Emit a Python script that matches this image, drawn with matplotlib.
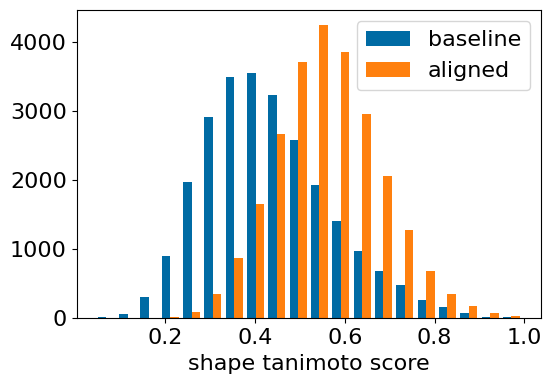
import numpy as np
import matplotlib
matplotlib.use("Agg")
import matplotlib.pyplot as plt

bin_edges = np.linspace(0.045, 0.995, 21)
baseline = [20, 62, 312, 900, 1968, 2921, 3499, 3557, 3239, 2589,
            1925, 1405, 972, 683, 481, 264, 163, 77, 20, 20]
aligned = [0, 0, 0, 20, 91, 350, 871, 1651, 2676, 3716,
           4250, 3860, 2964, 2069, 1275, 683, 350, 177, 77, 34]
labels = ["baseline", "aligned"]
colors = ["#006BA4", "#FF800E"]

centers = (bin_edges[:-1] + bin_edges[1:]) / 2

fig = plt.figure(figsize=(5.51, 3.89), dpi=100)
ax = fig.add_axes([0.139, 0.1817, 0.843, 0.7918])
ax.hist([centers, centers], bins=bin_edges, weights=[baseline, aligned],
        label=labels, color=colors)
ax.tick_params(labelsize=16)
ax.set_xlabel("shape tanimoto score", fontsize=16)
ax.set_xticks([0.2, 0.4, 0.6, 0.8, 1.0])
ax.set_yticks([0, 1000, 2000, 3000, 4000])
ax.legend(fontsize=16, loc="upper right")
fig.savefig("out.png", dpi=100)
